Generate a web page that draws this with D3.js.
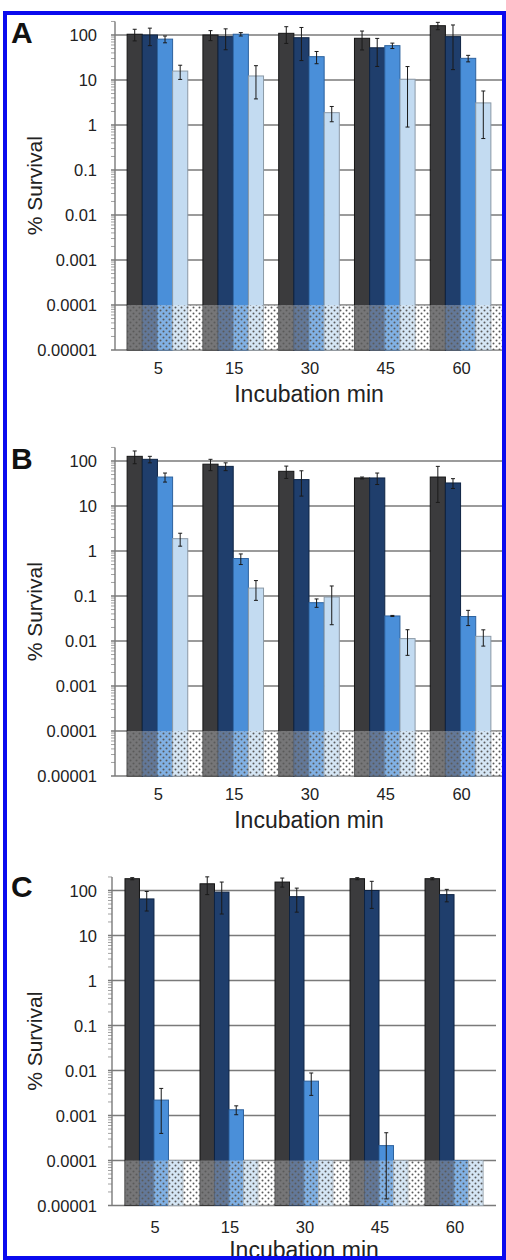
<!DOCTYPE html>
<html lang="en">
<head>
<meta charset="UTF-8">
<title>% Survival vs incubation time</title>
<script src="https://d3js.org/d3.v7.min.js"></script>
<style>
  body { margin: 0; background: #fff; }
  svg { display: block; font-family: "Liberation Sans", Arial, sans-serif; }
</style>
</head>
<body>
<div id="chart"></div>
<script>
// categories
const times = ["5", "15", "30", "45", "60"];
const series = ["s1", "s2", "s3", "s4"];
const yTicks = [100, 10, 1, 0.1, 0.01, 0.001, 0.0001, 0.00001];
const yTickLabels = ["100", "10", "1", "0.1", "0.01", "0.001", "0.0001", "0.00001"];
const detectionLimit = 0.0001;

// values (one row per series, one column per time)
const meanA = [
  [104, 100, 109, 84.5, 161],
  [100, 92, 87, 52, 92],
  [81, 104, 33, 58, 30.3],
  [15.8, 12.3, 1.88, 10.4, 3.1]
];
const errA = [
  [30, 25, 44, 38, 30],
  [42, 45, 60, 32, 75],
  [14, 9, 10, 8, 5],
  [5.5, 8.5, 0.7, 9.5, 2.6]
];
const meanB = [
  [127, 85, 59, 42, 44],
  [109, 76, 38.6, 42, 32.5],
  [44, 0.68, 0.071, 0.036, 0.035],
  [1.88, 0.15, 0.095, 0.0113, 0.0127]
];
const errB = [
  [40, 24, 18, 2, 32],
  [18, 15, 22, 12, 8],
  [10, 0.18, 0.015, 0.001, 0.013],
  [0.6, 0.07, 0.072, 0.0065, 0.005]
];
const meanC = [
  [183, 141, 154, 183, 183],
  [65, 92, 73, 100, 81],
  [0.0022, 0.00134, 0.0058, 0.000214, 0.0001],
  [0.0001, 0.0001, 0.0001, 0.0001, 0.0001]
];
const errC = [
  [10, 60, 35, 10, 10],
  [30, 62, 40, 60, 25],
  [0.0018, 0.0003, 0.003, 0.0002, 0],
  [0, 0, 0, 0, 0]
];

const fills = ["#3b3b3d", "#1f3e6c", "#4a8fd9", "#c3dbf1"];
const strokes = ["#151515", "#0e2444", "#2d629e", "#8b99a6"];

const W = 506, H = 1260;
const svg = d3.select("#chart").append("svg")
  .attr("width", W).attr("height", H);

// dotted pattern for the detection-limit zone
const defs = svg.append("defs");
const pat = defs.append("pattern")
  .attr("id", "dots").attr("patternUnits", "userSpaceOnUse")
  .attr("width", 6).attr("height", 6);
pat.append("rect").attr("width", 6).attr("height", 6).attr("fill", "#fff").attr("fill-opacity", 0.3);
pat.append("circle").attr("cx", 1.5).attr("cy", 1.5).attr("r", 1).attr("fill", "#5a5a5a");
pat.append("circle").attr("cx", 4.5).attr("cy", 4.5).attr("r", 1).attr("fill", "#5a5a5a");

const panels = [
  { letter: "A", mean: meanA, err: errA, y100: 35, axisX: 115, r1: 503, pIn: 0.2, pOut: 0.16, overlayToEnd: true, tickDy: 24, titleDy: 52, letterY: 43 },
  { letter: "B", mean: meanB, err: errB, y100: 461, axisX: 115, r1: 503, pIn: 0.2, pOut: 0.16, overlayToEnd: true, tickDy: 24, titleDy: 52, letterY: 469 },
  { letter: "C", mean: meanC, err: errC, y100: 890.5, axisX: 112, r1: 496, pIn: 0.227, pOut: 0.173, overlayToEnd: false, tickDy: 27, titleDy: 52, letterY: 897 }
];

const decade = 45;

panels.forEach(p => {
  const g = svg.append("g");
  const yBottom = p.y100 + 7 * decade;
  const yTop = p.y100 - decade * Math.log10(2);

  const y = d3.scaleLog().domain([1e-5, 200]).range([yBottom, yTop]);
  const x = d3.scaleBand().domain(times).range([p.axisX, p.r1])
    .paddingInner(p.pIn).paddingOuter(p.pOut);
  const xs = d3.scaleBand().domain(series).range([0, x.bandwidth()]);

  // gridlines
  g.append("g").selectAll("line").data(yTicks).join("line")
    .attr("x1", p.axisX - 4).attr("x2", p.r1)
    .attr("y1", d => y(d)).attr("y2", d => y(d))
    .attr("stroke", "#7a7a7a").attr("stroke-width", 1.4);

  // minor ticks
  const minors = [];
  for (let e = -5; e <= 2; e++) {
    for (let k = 2; k <= 9; k++) {
      const v = k * Math.pow(10, e);
      if (v <= 200) minors.push(v);
    }
  }
  g.append("g").selectAll("line").data(minors).join("line")
    .attr("x1", p.axisX - 4).attr("x2", p.axisX)
    .attr("y1", d => y(d)).attr("y2", d => y(d))
    .attr("stroke", "#8a8a8a").attr("stroke-width", 0.8);

  // bars
  const cells = [];
  p.mean.forEach((row, si) => row.forEach((v, ti) => {
    cells.push({ s: series[si], si: si, t: times[ti], v: v, e: p.err[si][ti] });
  }));

  g.append("g").selectAll("rect").data(cells).join("rect")
    .attr("x", d => x(d.t) + xs(d.s))
    .attr("width", xs.bandwidth())
    .attr("y", d => y(d.v))
    .attr("height", d => yBottom - y(d.v))
    .attr("fill", d => fills[d.si])
    .attr("stroke", d => strokes[d.si])
    .attr("stroke-width", 1);

  // detection-limit zone
  const ox0 = x(times[0]);
  const ox1 = p.overlayToEnd ? p.r1 : x(times[times.length - 1]) + x.bandwidth();
  g.append("rect")
    .attr("x", ox0).attr("width", ox1 - ox0)
    .attr("y", y(detectionLimit)).attr("height", yBottom - y(detectionLimit))
    .attr("fill", "url(#dots)");

  // error bars
  const eb = g.append("g").attr("stroke", "#1a1a1a").attr("stroke-width", 1);
  cells.filter(d => d.e > 0).forEach(d => {
    const cx = x(d.t) + xs(d.s) + xs.bandwidth() / 2;
    const hi = y(d.v + d.e);
    const lo = y(Math.max(d.v - d.e, 1.2e-5));
    eb.append("line").attr("x1", cx).attr("x2", cx).attr("y1", hi).attr("y2", lo);
    eb.append("line").attr("x1", cx - 2).attr("x2", cx + 2).attr("y1", hi).attr("y2", hi);
    eb.append("line").attr("x1", cx - 2).attr("x2", cx + 2).attr("y1", lo).attr("y2", lo);
  });

  // axis line
  g.append("line")
    .attr("x1", p.axisX).attr("x2", p.axisX).attr("y1", yTop).attr("y2", yBottom)
    .attr("stroke", "#7a7a7a").attr("stroke-width", 1.4);

  // y labels
  g.append("g").selectAll("text").data(yTicks).join("text")
    .attr("x", 97).attr("y", d => y(d) + 6)
    .attr("text-anchor", "end")
    .attr("font-size", 16.5).attr("fill", "#222")
    .text((d, i) => yTickLabels[i]);

  // x labels
  g.append("g").selectAll("text").data(times).join("text")
    .attr("x", d => x(d) + x.bandwidth() / 2 + 1)
    .attr("y", yBottom + p.tickDy)
    .attr("text-anchor", "middle")
    .attr("font-size", 16.5).attr("fill", "#222")
    .text(d => d);

  g.append("text")
    .attr("x", (p.axisX + p.r1) / 2).attr("y", yBottom + p.titleDy)
    .attr("text-anchor", "middle")
    .attr("font-size", 23).attr("fill", "#222")
    .text("Incubation min");

  g.append("text")
    .attr("transform", `translate(42,${(yTop + yBottom) / 2}) rotate(-90)`)
    .attr("text-anchor", "middle")
    .attr("font-size", 21).attr("fill", "#222")
    .text("% Survival");

  g.append("text")
    .attr("x", 11).attr("y", p.letterY)
    .attr("font-size", 30).attr("font-weight", "bold").attr("fill", "#111")
    .text(p.letter);
});

// blue frame
svg.append("rect")
  .attr("x", 5).attr("y", 13).attr("width", 499).attr("height", 1245)
  .attr("fill", "none").attr("stroke", "#0a0aee").attr("stroke-width", 4);
</script>
</body>
</html>
